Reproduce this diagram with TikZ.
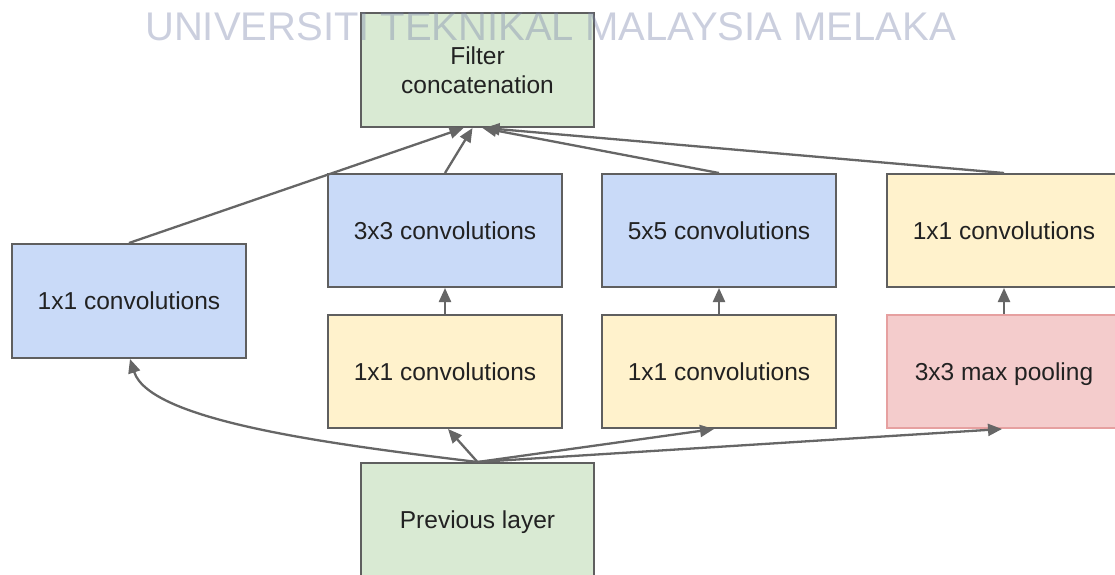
\documentclass[tikz,border=0pt]{standalone}
\usepackage{fontspec}
\setmainfont{Liberation Sans}
\usetikzlibrary{arrows.meta}
\definecolor{bluefill}{HTML}{C9DAF8}
\definecolor{yellowfill}{HTML}{FFF2CC}
\definecolor{greenfill}{HTML}{D9EAD3}
\definecolor{pinkfill}{HTML}{F4CCCC}
\definecolor{pinkline}{RGB}{230,160,160}
\definecolor{boxline}{HTML}{5F5F5F}
\definecolor{arrowcol}{HTML}{666666}
\definecolor{txt}{HTML}{222222}
\definecolor{wmark}{RGB}{120,130,170}
\tikzset{
  box/.style={draw=boxline, line width=2pt, minimum width=234pt, minimum height=114pt,
    inner sep=0pt, align=center, text=txt, font=\fontsize{24.5}{28.5}\selectfont},
  nodepth/.style={text depth=0pt},
  bluebox/.style={box, fill=bluefill},
  yellowbox/.style={box, fill=yellowfill},
  greenbox/.style={box, fill=greenfill},
  pinkbox/.style={box, nodepth, fill=pinkfill, draw=pinkline},
  conn/.style={draw=arrowcol, line width=2.3pt, -{Triangle[length=14pt,width=12pt]}},
}
\begin{document}
\begin{tikzpicture}[x=1pt,y=-1pt]
\useasboundingbox (0,0) rectangle (1115,574);
\clip (0,0) rectangle (1115,574);
\fill[white] (0,0) rectangle (1115,574);
% boxes
\node[greenbox, minimum width=233pt] (fc) at (477.5,70) {Filter\\concatenation};
\node[bluebox] (b1) at (129,301) {1x1 convolutions};
\node[bluebox, minimum height=113pt] (c2) at (445,230.5) {3x3 convolutions};
\node[bluebox, minimum height=113pt] (c3) at (719,230.5) {5x5 convolutions};
\node[yellowbox, minimum height=113pt] (c4) at (1004,230.5) {1x1 convolutions};
\node[yellowbox, minimum height=113pt] (y2) at (445,371.5) {1x1 convolutions};
\node[yellowbox, minimum height=113pt] (y3) at (719,371.5) {1x1 convolutions};
\node[pinkbox, minimum height=113pt] (p4) at (1004,371.5) {3x3 max pooling};
\node[greenbox, nodepth, minimum width=233pt] (pl) at (477.5,520) {Previous layer};
% upper arrows
\draw[conn] (b1.north) -- ([xshift=-14pt]fc.south);
\draw[conn] (c2.north) -- ([xshift=-5pt]fc.south);
\draw[conn] (c3.north) -- ([xshift=5pt]fc.south);
\draw[conn] (c4.north) -- ([xshift=8pt]fc.south);
% vertical arrows
\draw[conn] (y2.north) -- (c2.south);
\draw[conn] (y3.north) -- (c3.south);
\draw[conn] (p4.north) -- (c4.south);
% lower arrows
\draw[conn] (pl.north) .. controls ([xshift=-148pt,yshift=18pt]pl.north) and ([xshift=21pt,yshift=-62pt]b1.south) .. ([xshift=1pt]b1.south);
\draw[conn] (pl.north) -- ([xshift=3pt]y2.south);
\draw[conn] (pl.north) -- ([xshift=-5pt]y3.south);
\draw[conn] (pl.north) -- ([xshift=-2pt]p4.south);
% watermark
\node[anchor=base west, inner sep=0pt, text=wmark, text opacity=0.38,
  font=\fontsize{40}{40}\selectfont] (wm) at (145,40) {UNIVERSITI TEKNIKAL MALAYSIA MELAKA};
\end{tikzpicture}
\end{document}
